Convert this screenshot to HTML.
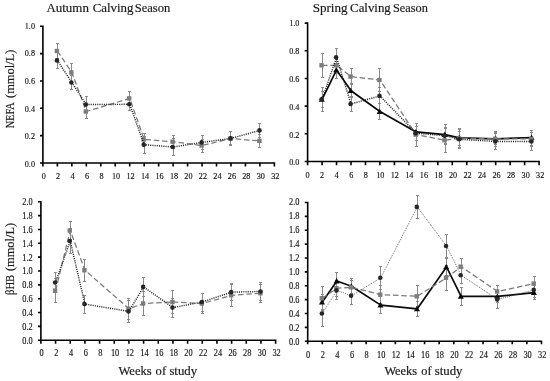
<!DOCTYPE html>
<html><head><meta charset="utf-8"><title>Calving season NEFA and BHB</title>
<style>
html,body{margin:0;padding:0;background:#fff;}
body{width:550px;height:381px;overflow:hidden;}
svg{display:block;will-change:transform;font-family:"Liberation Serif","DejaVu Serif",serif;}
</style></head><body>
<svg width="550" height="381" viewBox="0 0 550 381">
<rect width="550" height="381" fill="#ffffff"/>
<g><path d="M57.5 43.5V58.5M56 43.5h3M56 58.5h3M71.5 63.5V81.5M70 63.5h3M70 81.5h3M86.5 104.5V118.5M85 104.5h3M85 118.5h3M129.5 91.5V105.5M128 91.5h3M128 105.5h3M144.5 133.5V145.5M143 133.5h3M143 145.5h3M173.5 135.5V148.5M172 135.5h3M172 148.5h3M202.5 139.5V152.5M201 139.5h3M201 152.5h3M230.5 131.5V145.5M229 131.5h3M229 145.5h3M259.5 134.5V147.5M258 134.5h3M258 147.5h3M57.5 52.5V68.5M56 52.5h3M56 68.5h3M71.5 75.5V89.5M70 75.5h3M70 89.5h3M86.5 96.5V112.5M85 96.5h3M85 112.5h3M129.5 98.5V110.5M128 98.5h3M128 110.5h3M144.5 136.5V153.5M143 136.5h3M143 153.5h3M173.5 138.5V155.5M172 138.5h3M172 155.5h3M202.5 135.5V149.5M201 135.5h3M201 149.5h3M230.5 131.5V144.5M229 131.5h3M229 144.5h3M259.5 123.5V137.5M258 123.5h3M258 137.5h3" fill="none" stroke="#8a8a8a" stroke-width="1"/>
<path d="M57.37 51L71.84 72.4L86.3 111.5L129.71 98.4L144.18 139.4L173.11 141.7L202.05 145.5L230.98 138.6L259.92 140.9" fill="none" stroke="#7a7a7a" stroke-width="1.25" stroke-dasharray="5.5 2.8"/>
<rect x="54.67" y="48.8" width="4.4" height="4.4" fill="#7c7c7c"/>
<rect x="69.14" y="70.2" width="4.4" height="4.4" fill="#7c7c7c"/>
<rect x="83.6" y="109.3" width="4.4" height="4.4" fill="#7c7c7c"/>
<rect x="127.01" y="96.2" width="4.4" height="4.4" fill="#7c7c7c"/>
<rect x="141.48" y="137.2" width="4.4" height="4.4" fill="#7c7c7c"/>
<rect x="170.41" y="139.5" width="4.4" height="4.4" fill="#7c7c7c"/>
<rect x="199.35" y="143.3" width="4.4" height="4.4" fill="#7c7c7c"/>
<rect x="228.28" y="136.4" width="4.4" height="4.4" fill="#7c7c7c"/>
<rect x="257.22" y="138.7" width="4.4" height="4.4" fill="#7c7c7c"/>
<path d="M57.37 60.4L71.84 82.5L86.3 104.6L129.71 104.3L144.18 144.7L173.11 147L202.05 142.4L230.98 138.4L259.92 130.4" fill="none" stroke="#1e1e1e" stroke-width="1.45" stroke-dasharray="1.05 1.15"/>
<circle cx="56.92" cy="60.4" r="2.3" fill="#262626"/>
<circle cx="71.39" cy="82.5" r="2.3" fill="#262626"/>
<circle cx="85.85" cy="104.6" r="2.3" fill="#262626"/>
<circle cx="129.26" cy="104.3" r="2.3" fill="#262626"/>
<circle cx="143.73" cy="144.7" r="2.3" fill="#262626"/>
<circle cx="172.66" cy="147" r="2.3" fill="#262626"/>
<circle cx="201.6" cy="142.4" r="2.3" fill="#262626"/>
<circle cx="230.53" cy="138.4" r="2.3" fill="#262626"/>
<circle cx="259.47" cy="130.4" r="2.3" fill="#262626"/>
<path d="M42.9 25.5V163H275.19M42.9 163h-2.9M42.9 135.66h-2.9M42.9 108.32h-2.9M42.9 80.98h-2.9M42.9 53.64h-2.9M42.9 26.3h-2.9M42.9 163v3.5M57.37 163v3.5M71.84 163v3.5M86.3 163v3.5M100.77 163v3.5M115.24 163v3.5M129.71 163v3.5M144.18 163v3.5M158.64 163v3.5M173.11 163v3.5M187.58 163v3.5M202.05 163v3.5M216.52 163v3.5M230.98 163v3.5M245.45 163v3.5M259.92 163v3.5M274.39 163v3.5" fill="none" stroke="#000" stroke-width="1.6"/>
<g font-size="8.8" fill="#111" stroke="#111" stroke-width="0.15"><text transform="translate(35 166.6) scale(0.93 1)" text-anchor="end">0.0</text><text transform="translate(35 139.06) scale(0.93 1)" text-anchor="end">0.2</text><text transform="translate(35 111.52) scale(0.93 1)" text-anchor="end">0.4</text><text transform="translate(35 83.98) scale(0.93 1)" text-anchor="end">0.6</text><text transform="translate(35 56.44) scale(0.93 1)" text-anchor="end">0.8</text><text transform="translate(35 28.9) scale(0.93 1)" text-anchor="end">1.0</text><text transform="translate(43.7 179.2) scale(0.93 1)" text-anchor="middle">0</text><text transform="translate(58.17 179.2) scale(0.93 1)" text-anchor="middle">2</text><text transform="translate(72.65 179.2) scale(0.93 1)" text-anchor="middle">4</text><text transform="translate(87.12 179.2) scale(0.93 1)" text-anchor="middle">6</text><text transform="translate(101.6 179.2) scale(0.93 1)" text-anchor="middle">8</text><text transform="translate(116.07 179.2) scale(0.93 1)" text-anchor="middle">10</text><text transform="translate(130.55 179.2) scale(0.93 1)" text-anchor="middle">12</text><text transform="translate(145.02 179.2) scale(0.93 1)" text-anchor="middle">14</text><text transform="translate(159.49 179.2) scale(0.93 1)" text-anchor="middle">16</text><text transform="translate(173.97 179.2) scale(0.93 1)" text-anchor="middle">18</text><text transform="translate(188.44 179.2) scale(0.93 1)" text-anchor="middle">20</text><text transform="translate(202.92 179.2) scale(0.93 1)" text-anchor="middle">22</text><text transform="translate(217.39 179.2) scale(0.93 1)" text-anchor="middle">24</text><text transform="translate(231.87 179.2) scale(0.93 1)" text-anchor="middle">26</text><text transform="translate(246.34 179.2) scale(0.93 1)" text-anchor="middle">28</text><text transform="translate(260.81 179.2) scale(0.93 1)" text-anchor="middle">30</text><text transform="translate(275.29 179.2) scale(0.93 1)" text-anchor="middle">32</text></g></g>
<g><path d="M322.5 53.5V77.5M321 53.5h3M321 77.5h3M336.5 57.5V73.5M335 57.5h3M335 73.5h3M351.5 68.5V84.5M350 68.5h3M350 84.5h3M379.5 68.5V91.5M378 68.5h3M378 91.5h3M416.5 123.5V146.5M415 123.5h3M415 146.5h3M445.5 128.5V152.5M444 128.5h3M444 152.5h3M459.5 131.5V145.5M458 131.5h3M458 145.5h3M495.5 131.5V146.5M494 131.5h3M494 146.5h3M531.5 132.5V146.5M530 132.5h3M530 146.5h3M322.5 87.5V111.5M321 87.5h3M321 111.5h3M336.5 48.5V66.5M335 48.5h3M335 66.5h3M351.5 96.5V111.5M350 96.5h3M350 111.5h3M379.5 87.5V103.5M378 87.5h3M378 103.5h3M416.5 126.5V140.5M415 126.5h3M415 140.5h3M445.5 127.5V143.5M444 127.5h3M444 143.5h3M459.5 129.5V148.5M458 129.5h3M458 148.5h3M495.5 133.5V149.5M494 133.5h3M494 149.5h3M531.5 132.5V150.5M530 132.5h3M530 150.5h3M322.5 91.5V107.5M321 91.5h3M321 107.5h3M336.5 61.5V78.5M335 61.5h3M335 78.5h3M351.5 83.5V97.5M350 83.5h3M350 97.5h3M379.5 103.5V119.5M378 103.5h3M378 119.5h3M416.5 123.5V140.5M415 123.5h3M415 140.5h3M445.5 124.5V144.5M444 124.5h3M444 144.5h3M459.5 128.5V147.5M458 128.5h3M458 147.5h3M495.5 132.5V144.5M494 132.5h3M494 144.5h3M531.5 130.5V145.5M530 130.5h3M530 145.5h3" fill="none" stroke="#8a8a8a" stroke-width="1"/>
<path d="M322.07 99.3L336.54 69.9L351 90.7L379.94 111.5L416.11 131.9L445.05 134.6L459.51 137.8L495.68 138.8L531.85 137.6" fill="none" stroke="#0a0a0a" stroke-width="1.7" stroke-linejoin="round"/>
<path d="M321.77 96.3l3 5.4h-6z" fill="#0a0a0a"/>
<path d="M336.24 66.9l3 5.4h-6z" fill="#0a0a0a"/>
<path d="M350.7 87.7l3 5.4h-6z" fill="#0a0a0a"/>
<path d="M379.64 108.5l3 5.4h-6z" fill="#0a0a0a"/>
<path d="M415.81 128.9l3 5.4h-6z" fill="#0a0a0a"/>
<path d="M444.75 131.6l3 5.4h-6z" fill="#0a0a0a"/>
<path d="M459.21 134.8l3 5.4h-6z" fill="#0a0a0a"/>
<path d="M495.38 135.8l3 5.4h-6z" fill="#0a0a0a"/>
<path d="M531.55 134.6l3 5.4h-6z" fill="#0a0a0a"/>
<path d="M322.07 65.3L336.54 65.3L351 76.6L379.94 80L416.11 134.6L445.05 140.3L459.51 138.4L495.68 138.8L531.85 139" fill="none" stroke="#7a7a7a" stroke-width="1.25" stroke-dasharray="5.5 2.8"/>
<rect x="319.37" y="63.1" width="4.4" height="4.4" fill="#7c7c7c"/>
<rect x="333.84" y="63.1" width="4.4" height="4.4" fill="#7c7c7c"/>
<rect x="348.3" y="74.4" width="4.4" height="4.4" fill="#7c7c7c"/>
<rect x="377.24" y="77.8" width="4.4" height="4.4" fill="#7c7c7c"/>
<rect x="413.41" y="132.4" width="4.4" height="4.4" fill="#7c7c7c"/>
<rect x="442.35" y="138.1" width="4.4" height="4.4" fill="#7c7c7c"/>
<rect x="456.81" y="136.2" width="4.4" height="4.4" fill="#7c7c7c"/>
<rect x="492.98" y="136.6" width="4.4" height="4.4" fill="#7c7c7c"/>
<rect x="529.15" y="136.8" width="4.4" height="4.4" fill="#7c7c7c"/>
<path d="M322.07 99.3L336.54 57.3L351 104L379.94 95.9L416.11 133.2L445.05 135.7L459.51 139.3L495.68 141.4L531.85 141.5" fill="none" stroke="#1e1e1e" stroke-width="1.45" stroke-dasharray="1.05 1.15"/>
<circle cx="321.62" cy="99.3" r="2.3" fill="#262626"/>
<circle cx="336.09" cy="57.3" r="2.3" fill="#262626"/>
<circle cx="350.55" cy="104" r="2.3" fill="#262626"/>
<circle cx="379.49" cy="95.9" r="2.3" fill="#262626"/>
<circle cx="415.66" cy="133.2" r="2.3" fill="#262626"/>
<circle cx="444.6" cy="135.7" r="2.3" fill="#262626"/>
<circle cx="459.06" cy="139.3" r="2.3" fill="#262626"/>
<circle cx="495.23" cy="141.4" r="2.3" fill="#262626"/>
<circle cx="531.4" cy="141.5" r="2.3" fill="#262626"/>
<path d="M307.6 22.3V161.5H539.89M307.6 161.5h-2.9M307.6 133.82h-2.9M307.6 106.14h-2.9M307.6 78.46h-2.9M307.6 50.78h-2.9M307.6 23.1h-2.9M307.6 161.5v3.7M322.07 161.5v3.7M336.54 161.5v3.7M351 161.5v3.7M365.47 161.5v3.7M379.94 161.5v3.7M394.41 161.5v3.7M408.88 161.5v3.7M423.34 161.5v3.7M437.81 161.5v3.7M452.28 161.5v3.7M466.75 161.5v3.7M481.22 161.5v3.7M495.68 161.5v3.7M510.15 161.5v3.7M524.62 161.5v3.7M539.09 161.5v3.7" fill="none" stroke="#000" stroke-width="1.6"/>
<g font-size="8.8" fill="#111" stroke="#111" stroke-width="0.15"><text transform="translate(299.4 165.4) scale(0.93 1)" text-anchor="end">0.0</text><text transform="translate(299.4 137.56) scale(0.93 1)" text-anchor="end">0.2</text><text transform="translate(299.4 109.72) scale(0.93 1)" text-anchor="end">0.4</text><text transform="translate(299.4 81.88) scale(0.93 1)" text-anchor="end">0.6</text><text transform="translate(299.4 54.04) scale(0.93 1)" text-anchor="end">0.8</text><text transform="translate(299.4 26.2) scale(0.93 1)" text-anchor="end">1.0</text><text transform="translate(307.6 178.1) scale(0.93 1)" text-anchor="middle">0</text><text transform="translate(322.14 178.1) scale(0.93 1)" text-anchor="middle">2</text><text transform="translate(336.67 178.1) scale(0.93 1)" text-anchor="middle">4</text><text transform="translate(351.21 178.1) scale(0.93 1)" text-anchor="middle">6</text><text transform="translate(365.75 178.1) scale(0.93 1)" text-anchor="middle">8</text><text transform="translate(380.28 178.1) scale(0.93 1)" text-anchor="middle">10</text><text transform="translate(394.82 178.1) scale(0.93 1)" text-anchor="middle">12</text><text transform="translate(409.36 178.1) scale(0.93 1)" text-anchor="middle">14</text><text transform="translate(423.89 178.1) scale(0.93 1)" text-anchor="middle">16</text><text transform="translate(438.43 178.1) scale(0.93 1)" text-anchor="middle">18</text><text transform="translate(452.97 178.1) scale(0.93 1)" text-anchor="middle">20</text><text transform="translate(467.5 178.1) scale(0.93 1)" text-anchor="middle">22</text><text transform="translate(482.04 178.1) scale(0.93 1)" text-anchor="middle">24</text><text transform="translate(496.58 178.1) scale(0.93 1)" text-anchor="middle">26</text><text transform="translate(511.11 178.1) scale(0.93 1)" text-anchor="middle">28</text><text transform="translate(525.65 178.1) scale(0.93 1)" text-anchor="middle">30</text><text transform="translate(540.19 178.1) scale(0.93 1)" text-anchor="middle">32</text></g></g>
<g><path d="M55.5 278.5V302.5M54 278.5h3M54 302.5h3M70.5 221.5V239.5M69 221.5h3M69 239.5h3M84.5 259.5V281.5M83 259.5h3M83 281.5h3M128.5 298.5V319.5M127 298.5h3M127 319.5h3M143.5 291.5V315.5M142 291.5h3M142 315.5h3M172.5 290.5V313.5M171 290.5h3M171 313.5h3M202.5 293.5V313.5M201 293.5h3M201 313.5h3M231.5 284.5V306.5M230 284.5h3M230 306.5h3M260.5 284.5V302.5M259 284.5h3M259 302.5h3M55.5 272.5V292.5M54 272.5h3M54 292.5h3M70.5 228.5V253.5M69 228.5h3M69 253.5h3M84.5 295.5V313.5M83 295.5h3M83 313.5h3M128.5 300.5V322.5M127 300.5h3M127 322.5h3M143.5 277.5V296.5M142 277.5h3M142 296.5h3M172.5 298.5V317.5M171 298.5h3M171 317.5h3M202.5 293.5V311.5M201 293.5h3M201 311.5h3M231.5 283.5V300.5M230 283.5h3M230 300.5h3M260.5 282.5V300.5M259 282.5h3M259 300.5h3" fill="none" stroke="#8a8a8a" stroke-width="1"/>
<path d="M55.57 290.6L70.24 230.5L84.91 270.2L128.92 308.7L143.59 303.5L172.93 302L202.27 303.5L231.61 295.3L260.95 293.2" fill="none" stroke="#7a7a7a" stroke-width="1.25" stroke-dasharray="5.5 2.8"/>
<rect x="52.87" y="288.4" width="4.4" height="4.4" fill="#7c7c7c"/>
<rect x="67.54" y="228.3" width="4.4" height="4.4" fill="#7c7c7c"/>
<rect x="82.21" y="268" width="4.4" height="4.4" fill="#7c7c7c"/>
<rect x="126.22" y="306.5" width="4.4" height="4.4" fill="#7c7c7c"/>
<rect x="140.89" y="301.3" width="4.4" height="4.4" fill="#7c7c7c"/>
<rect x="170.23" y="299.8" width="4.4" height="4.4" fill="#7c7c7c"/>
<rect x="199.57" y="301.3" width="4.4" height="4.4" fill="#7c7c7c"/>
<rect x="228.91" y="293.1" width="4.4" height="4.4" fill="#7c7c7c"/>
<rect x="258.25" y="291" width="4.4" height="4.4" fill="#7c7c7c"/>
<path d="M55.57 282.5L70.24 241L84.91 304.1L128.92 311.4L143.59 286.9L172.93 307.6L202.27 302L231.61 292.1L260.95 291.5" fill="none" stroke="#1e1e1e" stroke-width="1.45" stroke-dasharray="1.05 1.15"/>
<circle cx="55.12" cy="282.5" r="2.3" fill="#262626"/>
<circle cx="69.79" cy="241" r="2.3" fill="#262626"/>
<circle cx="84.46" cy="304.1" r="2.3" fill="#262626"/>
<circle cx="128.47" cy="311.4" r="2.3" fill="#262626"/>
<circle cx="143.14" cy="286.9" r="2.3" fill="#262626"/>
<circle cx="172.48" cy="307.6" r="2.3" fill="#262626"/>
<circle cx="201.82" cy="302" r="2.3" fill="#262626"/>
<circle cx="231.16" cy="292.1" r="2.3" fill="#262626"/>
<circle cx="260.5" cy="291.5" r="2.3" fill="#262626"/>
<path d="M40.9 201V340.2H276.42M40.9 340.2h-2.9M40.9 326.36h-2.9M40.9 312.52h-2.9M40.9 298.68h-2.9M40.9 284.84h-2.9M40.9 271h-2.9M40.9 257.16h-2.9M40.9 243.32h-2.9M40.9 229.48h-2.9M40.9 215.64h-2.9M40.9 201.8h-2.9M40.9 340.2v3.5M55.57 340.2v3.5M70.24 340.2v3.5M84.91 340.2v3.5M99.58 340.2v3.5M114.25 340.2v3.5M128.92 340.2v3.5M143.59 340.2v3.5M158.26 340.2v3.5M172.93 340.2v3.5M187.6 340.2v3.5M202.27 340.2v3.5M216.94 340.2v3.5M231.61 340.2v3.5M246.28 340.2v3.5M260.95 340.2v3.5M275.62 340.2v3.5" fill="none" stroke="#000" stroke-width="1.6"/>
<g font-size="9.3" fill="#111" stroke="#111" stroke-width="0.15"><text transform="translate(32.7 343.9) scale(0.895 1)" text-anchor="end">0.0</text><text transform="translate(32.7 330) scale(0.895 1)" text-anchor="end">0.2</text><text transform="translate(32.7 316.1) scale(0.895 1)" text-anchor="end">0.4</text><text transform="translate(32.7 302.2) scale(0.895 1)" text-anchor="end">0.6</text><text transform="translate(32.7 288.3) scale(0.895 1)" text-anchor="end">0.8</text><text transform="translate(32.7 274.4) scale(0.895 1)" text-anchor="end">1.0</text><text transform="translate(32.7 260.5) scale(0.895 1)" text-anchor="end">1.2</text><text transform="translate(32.7 246.6) scale(0.895 1)" text-anchor="end">1.4</text><text transform="translate(32.7 232.7) scale(0.895 1)" text-anchor="end">1.6</text><text transform="translate(32.7 218.8) scale(0.895 1)" text-anchor="end">1.8</text><text transform="translate(32.7 204.9) scale(0.895 1)" text-anchor="end">2.0</text><text transform="translate(41.7 356.1) scale(0.895 1)" text-anchor="middle">0</text><text transform="translate(56.38 356.1) scale(0.895 1)" text-anchor="middle">2</text><text transform="translate(71.06 356.1) scale(0.895 1)" text-anchor="middle">4</text><text transform="translate(85.75 356.1) scale(0.895 1)" text-anchor="middle">6</text><text transform="translate(100.43 356.1) scale(0.895 1)" text-anchor="middle">8</text><text transform="translate(115.11 356.1) scale(0.895 1)" text-anchor="middle">10</text><text transform="translate(129.79 356.1) scale(0.895 1)" text-anchor="middle">12</text><text transform="translate(144.48 356.1) scale(0.895 1)" text-anchor="middle">14</text><text transform="translate(159.16 356.1) scale(0.895 1)" text-anchor="middle">16</text><text transform="translate(173.84 356.1) scale(0.895 1)" text-anchor="middle">18</text><text transform="translate(188.53 356.1) scale(0.895 1)" text-anchor="middle">20</text><text transform="translate(203.21 356.1) scale(0.895 1)" text-anchor="middle">22</text><text transform="translate(217.89 356.1) scale(0.895 1)" text-anchor="middle">24</text><text transform="translate(232.57 356.1) scale(0.895 1)" text-anchor="middle">26</text><text transform="translate(247.26 356.1) scale(0.895 1)" text-anchor="middle">28</text><text transform="translate(261.94 356.1) scale(0.895 1)" text-anchor="middle">30</text><text transform="translate(276.62 356.1) scale(0.895 1)" text-anchor="middle">32</text></g></g>
<g><path d="M322.5 286.5V309.5M321 286.5h3M321 309.5h3M336.5 280.5V296.5M335 280.5h3M335 296.5h3M351.5 280.5V294.5M350 280.5h3M350 294.5h3M380.5 285.5V303.5M379 285.5h3M379 303.5h3M417.5 285.5V306.5M416 285.5h3M416 306.5h3M446.5 265.5V290.5M445 265.5h3M445 290.5h3M461.5 258.5V275.5M460 258.5h3M460 275.5h3M497.5 285.5V297.5M496 285.5h3M496 297.5h3M534.5 276.5V290.5M533 276.5h3M533 290.5h3M322.5 300.5V326.5M321 300.5h3M321 326.5h3M336.5 281.5V299.5M335 281.5h3M335 299.5h3M351.5 287.5V304.5M350 287.5h3M350 304.5h3M380.5 266.5V289.5M379 266.5h3M379 289.5h3M417.5 195.5V218.5M416 195.5h3M416 218.5h3M446.5 234.5V257.5M445 234.5h3M445 257.5h3M461.5 267.5V283.5M460 267.5h3M460 283.5h3M497.5 290.5V308.5M496 290.5h3M496 308.5h3M534.5 282.5V297.5M533 282.5h3M533 297.5h3M322.5 294.5V310.5M321 294.5h3M321 310.5h3M336.5 272.5V289.5M335 272.5h3M335 289.5h3M351.5 278.5V293.5M350 278.5h3M350 293.5h3M380.5 296.5V313.5M379 296.5h3M379 313.5h3M417.5 301.5V316.5M416 301.5h3M416 316.5h3M446.5 258.5V275.5M445 258.5h3M445 275.5h3M461.5 287.5V305.5M460 287.5h3M460 305.5h3M497.5 290.5V302.5M496 290.5h3M496 302.5h3M534.5 285.5V299.5M533 285.5h3M533 299.5h3" fill="none" stroke="#8a8a8a" stroke-width="1"/>
<path d="M322.31 302L336.92 281L351.53 286.2L380.75 305.1L417.27 308.8L446.5 266.9L461.11 296.3L497.63 296.4L534.15 292.6" fill="none" stroke="#0a0a0a" stroke-width="1.7" stroke-linejoin="round"/>
<path d="M322.01 299l3 5.4h-6z" fill="#0a0a0a"/>
<path d="M336.62 278l3 5.4h-6z" fill="#0a0a0a"/>
<path d="M351.23 283.2l3 5.4h-6z" fill="#0a0a0a"/>
<path d="M380.45 302.1l3 5.4h-6z" fill="#0a0a0a"/>
<path d="M416.97 305.8l3 5.4h-6z" fill="#0a0a0a"/>
<path d="M446.19 263.9l3 5.4h-6z" fill="#0a0a0a"/>
<path d="M460.81 293.3l3 5.4h-6z" fill="#0a0a0a"/>
<path d="M497.33 293.4l3 5.4h-6z" fill="#0a0a0a"/>
<path d="M533.86 289.6l3 5.4h-6z" fill="#0a0a0a"/>
<path d="M322.31 298.2L336.92 288.3L351.53 287.3L380.75 294.6L417.27 296.3L446.5 277.8L461.11 266.7L497.63 291.5L534.15 283.6" fill="none" stroke="#7a7a7a" stroke-width="1.25" stroke-dasharray="5.5 2.8"/>
<rect x="319.61" y="296" width="4.4" height="4.4" fill="#7c7c7c"/>
<rect x="334.22" y="286.1" width="4.4" height="4.4" fill="#7c7c7c"/>
<rect x="348.83" y="285.1" width="4.4" height="4.4" fill="#7c7c7c"/>
<rect x="378.05" y="292.4" width="4.4" height="4.4" fill="#7c7c7c"/>
<rect x="414.57" y="294.1" width="4.4" height="4.4" fill="#7c7c7c"/>
<rect x="443.8" y="275.6" width="4.4" height="4.4" fill="#7c7c7c"/>
<rect x="458.41" y="264.5" width="4.4" height="4.4" fill="#7c7c7c"/>
<rect x="494.93" y="289.3" width="4.4" height="4.4" fill="#7c7c7c"/>
<rect x="531.45" y="281.4" width="4.4" height="4.4" fill="#7c7c7c"/>
<path d="M322.31 313.5L336.92 290.4L351.53 295.7L380.75 277.8L417.27 206.9L446.5 246L461.11 275.3L497.63 299.4L534.15 289.9" fill="none" stroke="#4a4a4a" stroke-width="0.9" stroke-dasharray="0.9 1.1"/>
<circle cx="321.86" cy="313.5" r="2.3" fill="#262626"/>
<circle cx="336.47" cy="290.4" r="2.3" fill="#262626"/>
<circle cx="351.08" cy="295.7" r="2.3" fill="#262626"/>
<circle cx="380.3" cy="277.8" r="2.3" fill="#262626"/>
<circle cx="416.82" cy="206.9" r="2.3" fill="#262626"/>
<circle cx="446.05" cy="246" r="2.3" fill="#262626"/>
<circle cx="460.66" cy="275.3" r="2.3" fill="#262626"/>
<circle cx="497.18" cy="299.4" r="2.3" fill="#262626"/>
<circle cx="533.7" cy="289.9" r="2.3" fill="#262626"/>
<path d="M307.7 201.7V341.3H542.26M307.7 341.3h-2.9M307.7 327.42h-2.9M307.7 313.54h-2.9M307.7 299.66h-2.9M307.7 285.78h-2.9M307.7 271.9h-2.9M307.7 258.02h-2.9M307.7 244.14h-2.9M307.7 230.26h-2.9M307.7 216.38h-2.9M307.7 202.5h-2.9M307.7 341.3v2.9M322.31 341.3v2.9M336.92 341.3v2.9M351.53 341.3v2.9M366.14 341.3v2.9M380.75 341.3v2.9M395.36 341.3v2.9M409.97 341.3v2.9M424.58 341.3v2.9M439.19 341.3v2.9M453.8 341.3v2.9M468.41 341.3v2.9M483.02 341.3v2.9M497.63 341.3v2.9M512.24 341.3v2.9M526.85 341.3v2.9M541.46 341.3v2.9" fill="none" stroke="#000" stroke-width="1.6"/>
<g font-size="9.3" fill="#111" stroke="#111" stroke-width="0.15"><text transform="translate(299.4 344.7) scale(0.895 1)" text-anchor="end">0.0</text><text transform="translate(299.4 330.7) scale(0.895 1)" text-anchor="end">0.2</text><text transform="translate(299.4 316.7) scale(0.895 1)" text-anchor="end">0.4</text><text transform="translate(299.4 302.7) scale(0.895 1)" text-anchor="end">0.6</text><text transform="translate(299.4 288.7) scale(0.895 1)" text-anchor="end">0.8</text><text transform="translate(299.4 274.7) scale(0.895 1)" text-anchor="end">1.0</text><text transform="translate(299.4 260.7) scale(0.895 1)" text-anchor="end">1.2</text><text transform="translate(299.4 246.7) scale(0.895 1)" text-anchor="end">1.4</text><text transform="translate(299.4 232.7) scale(0.895 1)" text-anchor="end">1.6</text><text transform="translate(299.4 218.7) scale(0.895 1)" text-anchor="end">1.8</text><text transform="translate(299.4 204.7) scale(0.895 1)" text-anchor="end">2.0</text><text transform="translate(308.1 357.6) scale(0.895 1)" text-anchor="middle">0</text><text transform="translate(322.73 357.6) scale(0.895 1)" text-anchor="middle">2</text><text transform="translate(337.37 357.6) scale(0.895 1)" text-anchor="middle">4</text><text transform="translate(352 357.6) scale(0.895 1)" text-anchor="middle">6</text><text transform="translate(366.64 357.6) scale(0.895 1)" text-anchor="middle">8</text><text transform="translate(381.27 357.6) scale(0.895 1)" text-anchor="middle">10</text><text transform="translate(395.91 357.6) scale(0.895 1)" text-anchor="middle">12</text><text transform="translate(410.54 357.6) scale(0.895 1)" text-anchor="middle">14</text><text transform="translate(425.18 357.6) scale(0.895 1)" text-anchor="middle">16</text><text transform="translate(439.81 357.6) scale(0.895 1)" text-anchor="middle">18</text><text transform="translate(454.45 357.6) scale(0.895 1)" text-anchor="middle">20</text><text transform="translate(469.08 357.6) scale(0.895 1)" text-anchor="middle">22</text><text transform="translate(483.72 357.6) scale(0.895 1)" text-anchor="middle">24</text><text transform="translate(498.35 357.6) scale(0.895 1)" text-anchor="middle">26</text><text transform="translate(512.99 357.6) scale(0.895 1)" text-anchor="middle">28</text><text transform="translate(527.62 357.6) scale(0.895 1)" text-anchor="middle">30</text><text transform="translate(542.26 357.6) scale(0.895 1)" text-anchor="middle">32</text></g></g>
<g font-size="12.3" fill="#1a1a1a" stroke="#1a1a1a" stroke-width="0.18">
<text y="12" xml:space="default"><tspan x="46.4" textLength="42.5" lengthAdjust="spacingAndGlyphs">Autumn</tspan> <tspan x="92.7" textLength="40.7" lengthAdjust="spacingAndGlyphs">Calving</tspan> <tspan x="134.7" textLength="35.6" lengthAdjust="spacingAndGlyphs">Season</tspan></text>
<text y="12" xml:space="default"><tspan x="312.7" textLength="34.9" lengthAdjust="spacingAndGlyphs">Spring</tspan> <tspan x="350.1" textLength="40.7" lengthAdjust="spacingAndGlyphs">Calving</tspan> <tspan x="392.9" textLength="34.9" lengthAdjust="spacingAndGlyphs">Season</tspan></text>
<text y="374.5" xml:space="default"><tspan x="118.5" textLength="33.2" lengthAdjust="spacingAndGlyphs">Weeks</tspan> <tspan x="155.6" textLength="10.5" lengthAdjust="spacingAndGlyphs">of</tspan> <tspan x="169.4" textLength="27.7" lengthAdjust="spacingAndGlyphs">study</tspan></text>
<text y="374.5" xml:space="default"><tspan x="384.4" textLength="32.7" lengthAdjust="spacingAndGlyphs">Weeks</tspan> <tspan x="421.3" textLength="10.3" lengthAdjust="spacingAndGlyphs">of</tspan> <tspan x="434.8" textLength="27.7" lengthAdjust="spacingAndGlyphs">study</tspan></text>
<text transform="translate(14.3 128.3) rotate(-90)" y="0"><tspan x="0" textLength="25.5" lengthAdjust="spacingAndGlyphs">NEFA</tspan> <tspan x="30.3" textLength="48.5" lengthAdjust="spacingAndGlyphs">(mmol/L)</tspan></text>
<text transform="translate(14.3 295) rotate(-90)" y="0"><tspan x="0" textLength="20.2" lengthAdjust="spacingAndGlyphs">βHB</tspan> <tspan x="23.9" textLength="48.2" lengthAdjust="spacingAndGlyphs">(mmol/L)</tspan></text>
</g>
</svg>
</body></html>
